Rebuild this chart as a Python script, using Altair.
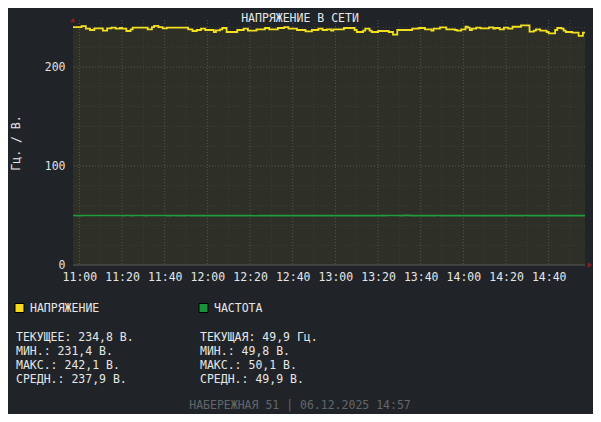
import altair as alt
import pandas as pd

# ---------------- data ----------------
TITLE = "НАПРЯЖЕНИЕ В СЕТИ"
Y_TITLE = "Гц. / В."
FOOTER = "НАБЕРЕЖНАЯ 51 | 06.12.2025 14:57"
T_START = "10:57"
T_END = "14:57"
Y_TOP = 247.5

volt_times = ["10:57", "11:01", "11:03", "11:05", "11:07", "11:11", "11:13", "11:15", "11:17", "11:19",
              "11:20", "11:22", "11:24", "11:25", "11:32", "11:34", "11:35", "11:37", "11:39", "11:41",
              "11:51", "11:53", "11:55", "11:57", "11:59", "12:03", "12:04", "12:06", "12:07", "12:09",
              "12:14", "12:17", "12:19", "12:23", "12:27", "12:29", "12:33", "12:36", "12:38", "12:42",
              "12:46", "12:49", "12:52", "12:54", "12:56", "12:58", "12:59", "13:04", "13:09", "13:10",
              "13:13", "13:14", "13:16", "13:17", "13:20", "13:25", "13:27", "13:29", "13:36", "13:39",
              "13:42", "13:45", "13:46", "13:49", "13:52", "13:56", "13:57", "13:59", "14:01", "14:02",
              "14:03", "14:04", "14:06", "14:08", "14:12", "14:14", "14:15", "14:17", "14:19", "14:21",
              "14:23", "14:27", "14:31", "14:33", "14:34", "14:36", "14:39", "14:40", "14:43", "14:44",
              "14:46", "14:47", "14:48", "14:51", "14:54", "14:56", "14:57"]
volt_values = [240.4, 241.4, 238.7, 237.4, 239.1, 236.7, 239.1, 239.7, 238.7, 239.4,
               238.7, 236.4, 238.1, 239.7, 238.1, 240.4, 241.6, 240.4, 239.1, 239.7,
               238.1, 236.4, 237.4, 238.7, 237.4, 235.4, 237.0, 238.1, 239.4, 235.4,
               237.4, 238.7, 236.7, 238.1, 239.4, 238.1, 239.4, 240.4, 238.7, 237.4,
               236.0, 237.4, 238.7, 237.4, 238.1, 236.7, 238.1, 239.4, 237.4, 235.4,
               236.7, 238.7, 236.7, 235.4, 236.4, 235.4, 232.8, 237.4, 238.7, 239.4,
               238.1, 236.7, 238.7, 240.1, 238.1, 237.4, 236.7, 238.1, 240.7, 239.7,
               237.4, 238.7, 239.7, 239.1, 240.1, 238.7, 239.4, 238.1, 239.7, 238.7,
               240.7, 242.1, 235.7, 236.7, 238.1, 236.7, 235.4, 234.0, 237.4, 239.4,
               238.7, 236.7, 235.4, 234.7, 231.4, 234.8, 234.8]

freq_times = ["10:57", "10:59", "11:01", "11:20", "11:21", "11:24", "11:25", "11:31", "11:32", "11:41",
              "11:43", "11:45", "11:47", "11:48", "11:50", "11:52", "12:05", "12:06", "12:10", "12:11",
              "12:16", "12:17", "12:21", "12:24", "12:30", "12:31", "13:20", "13:21", "13:24", "13:30",
              "13:32", "13:35", "13:47", "13:49", "14:06", "14:07", "14:22", "14:23", "14:28", "14:30",
              "14:57"]
freq_values = [50.0, 49.9, 50.0, 49.9, 50.0, 49.9, 50.0, 49.9, 50.0, 49.9,
               50.0, 49.9, 50.0, 49.9, 50.0, 49.9, 50.0, 49.9, 50.0, 49.9,
               50.0, 49.9, 49.8, 49.9, 50.0, 49.9, 50.0, 49.9, 50.0, 49.9,
               50.1, 49.9, 50.0, 49.9, 50.0, 49.9, 50.0, 49.9, 50.0, 49.9,
               49.9]

series_names = ["НАПРЯЖЕНИЕ", "ЧАСТОТА"]
series_colors = ["#f2df1f", "#1f9c3c"]
legend_colors = ["#f5d91e", "#17913a"]
stat_labels = [["ТЕКУЩЕЕ", "МИН.", "МАКС.", "СРЕДН."], ["ТЕКУЩАЯ", "МИН.", "МАКС.", "СРЕДН."]]
stat_values = [[234.8, 231.4, 242.1, 237.9], [49.9, 49.8, 50.1, 49.9]]
stat_units = [["В.", "В.", "В.", "В."], ["Гц.", "В.", "В.", "В."]]

x_tick_values = ["11:00", "11:20", "11:40", "12:00", "12:20", "12:40", "13:00", "13:20",
                 "13:40", "14:00", "14:20", "14:40"]
y_tick_values = [0, 100, 200]
y_minor_grid = [20, 40, 60, 80, 120, 140, 160, 180, 220, 240]
y_major_grid = [100, 200]


def to_min(s):
    h, m = s.split(":")
    return int(h) * 60 + int(m)


FONT = "DejaVu Sans Mono"
FS = 11.5
BG = "#202428"

t0, t1 = to_min(T_START), to_min(T_END)
x_scale = alt.Scale(domain=[t0, t1], nice=False, zero=False)
y_scale = alt.Scale(domain=[0, Y_TOP], nice=False)

volt_df = pd.DataFrame({"t": [to_min(s) for s in volt_times], "v": volt_values})
freq_df = pd.DataFrame({"t": [to_min(s) for s in freq_times], "v": freq_values})

x_major = [m for m in range(t0, t1 + 1) if m % 20 == 0]
x_minor = [m for m in range(t0, t1 + 1) if m % 10 == 0 and m % 20 != 0]

x_axis = alt.Axis(values=[to_min(s) for s in x_tick_values],
                  labelExpr="floor(datum.value/60) + ':' + (datum.value%60 < 10 ? '0' : '') + (datum.value%60)",
                  grid=False, ticks=False, domain=False, labelFont=FONT, labelFontSize=FS,
                  labelColor="#e6e6e6", labelPadding=6, title=None, labelOverlap=False)
y_axis = alt.Axis(values=y_tick_values, grid=False, ticks=False, domain=False, labelFont=FONT,
                  labelFontSize=FS, labelColor="#e0e0e0", labelPadding=8, title=Y_TITLE,
                  titleFont=FONT, titleFontSize=FS, titleFontWeight="normal", titleColor="#e6e6e6",
                  titlePadding=23)


def X(field):
    return alt.X(field, scale=x_scale, axis=x_axis)


def Y(field):
    return alt.Y(field, scale=y_scale, axis=y_axis)


area = alt.Chart(volt_df).mark_area(interpolate="step-after", color="#2e2f27", opacity=1).encode(
    x=X("t:Q"), y=Y("v:Q"))


def hrules(vals, color):
    return alt.Chart(pd.DataFrame({"v": vals})).mark_rule(
        color=color, strokeDash=[1, 2], strokeWidth=1).encode(y=Y("v:Q"))


def vrules(vals, color):
    return alt.Chart(pd.DataFrame({"t": vals})).mark_rule(
        color=color, strokeDash=[1, 2], strokeWidth=1).encode(x=X("t:Q"))


grid = [hrules(y_minor_grid, "#3c3e36"), hrules(y_major_grid, "#55564f"),
        vrules(x_minor, "#3c3e36"), vrules(x_major, "#55564f")]

base_line = alt.Chart(pd.DataFrame({"v": [0]})).mark_rule(color="#5a5a5a", strokeWidth=1).encode(
    y=Y("v:Q"))

freq_line = alt.Chart(freq_df).mark_line(interpolate="step-after", color=series_colors[1],
                                         strokeWidth=1.6).encode(x=X("t:Q"), y=Y("v:Q"))
volt_line = alt.Chart(volt_df).mark_line(interpolate="step-after", color=series_colors[0],
                                         strokeWidth=1.8).encode(x=X("t:Q"), y=Y("v:Q"))

arrow_up = alt.Chart(pd.DataFrame({"t": [t0], "v": [Y_TOP]})).mark_point(
    shape="triangle-up", filled=True, color="#8e1d1d", size=28, opacity=1).encode(
    x=X("t:Q"), y=Y("v:Q"))
arrow_right = alt.Chart(pd.DataFrame({"t": [t1 + 2.3], "v": [0]})).mark_point(
    shape="triangle-right", filled=True, color="#8e1d1d", size=28, opacity=1).encode(
    x=X("t:Q"), y=Y("v:Q"))


def text_at(txt, x, y, color="#e6e6e6", align="left"):
    return alt.Chart(pd.DataFrame({"text": [txt]})).mark_text(
        font=FONT, fontSize=FS, color=color, align=align, baseline="middle").encode(
        x=alt.value(x), y=alt.value(y), text="text:N")


def fmt(v):
    return f"{v:.1f}".replace(".", ",")


texts = [text_at(TITLE, 227, -1, align="center"),
         text_at(FOOTER, 227, 386, color="#62666b", align="center")]

col_x = [-57, 127]
for i in range(2):
    sq = alt.Chart(pd.DataFrame({"k": [series_names[i]]})).mark_square(
        size=81, color=legend_colors[i], opacity=1, stroke="#000000", strokeWidth=1).encode(
        x=alt.value(col_x[i] + 3.5), y=alt.value(288))
    texts.append(sq)
    texts.append(text_at(series_names[i], col_x[i] + 14, 289))
    for j in range(4):
        line = f"{stat_labels[i][j]}: {fmt(stat_values[i][j])} {stat_units[i][j]}"
        texts.append(text_at(line, col_x[i], 318 + 14 * j))

chart = alt.layer(area, *grid, base_line, freq_line, volt_line, arrow_up, arrow_right, *texts).properties(
    width=512, height=245,
    autosize=alt.AutoSizeParams(type="none"),
    padding={"left": 65, "top": 12, "right": 8, "bottom": 149},
    background=BG,
).configure_view(stroke=None)

chart.save("out.html", embed_options={"renderer": "svg", "actions": False})
